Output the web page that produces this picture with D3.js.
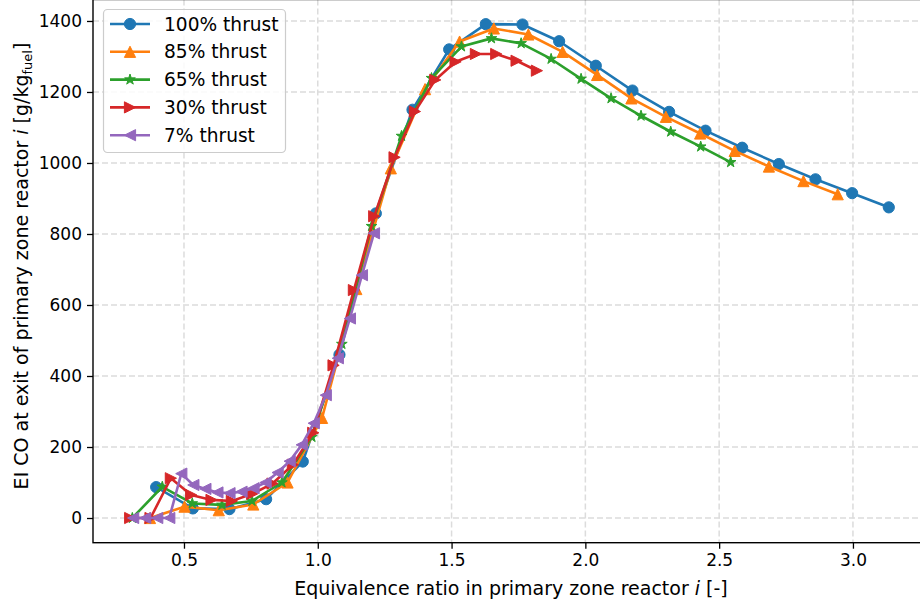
<!DOCTYPE html>
<html>
<head>
<meta charset="utf-8">
<script src="https://cdn.jsdelivr.net/npm/d3@7"></script>
<style>
  html, body { margin: 0; padding: 0; background: #fff; }
  svg { display: block; font-family: "DejaVu Sans", sans-serif; }
</style>
</head>
<body>
<svg id="chart" width="920" height="602"></svg>
<script>
// ---- data ----
const seriesNames = ["100% thrust", "85% thrust", "65% thrust", "30% thrust", "7% thrust"];
const seriesColors = ["#1f77b4", "#ff7f0e", "#2ca02c", "#d62728", "#9467bd"];
const seriesMarkers = ["circle", "triangleUp", "star", "triangleRight", "triangleLeft"];

const phi100 = [0.396,0.533,0.670,0.807,0.944,1.081,1.217,1.354,1.491,1.628,1.765,1.902,2.039,2.176,2.313,2.449,2.586,2.723,2.860,2.997,3.134];
const co100  = [87,27,25,53,159,460,858,1150,1320,1391,1390,1343,1274,1204,1144,1091,1043,997,954,915,875];

const phi85 = [0.373,0.502,0.630,0.759,0.887,1.016,1.144,1.273,1.401,1.530,1.658,1.787,1.915,2.044,2.172,2.301,2.429,2.558,2.686,2.815,2.943];
const co85  = [0,32,22,38,100,282,645,985,1208,1342,1379,1362,1313,1248,1182,1130,1083,1034,990,949,912];

const phi65 = [0.307,0.419,0.531,0.642,0.754,0.866,0.978,1.090,1.201,1.313,1.425,1.537,1.649,1.760,1.872,1.984,2.096,2.208,2.319,2.431,2.543];
const co65  = [0,88,41,37,48,100,228,490,822,1076,1239,1328,1351,1337,1293,1237,1182,1133,1088,1046,1002];

const phi30 = [0.299,0.375,0.451,0.527,0.603,0.679,0.755,0.831,0.907,0.983,1.059,1.135,1.211,1.287,1.363,1.439,1.515,1.591,1.667,1.743,1.819];
const co30  = [0,0,112,65,51,48,68,97,150,240,430,642,850,1016,1145,1234,1285,1307,1307,1288,1260];

const phi7 = [0.310,0.355,0.400,0.445,0.490,0.535,0.580,0.625,0.670,0.715,0.760,0.805,0.850,0.895,0.940,0.985,1.030,1.075,1.120,1.165,1.210];
const co7  = [0,0,0,0,125,93,82,72,70,74,84,100,128,160,206,267,346,450,562,684,802];

const xTicks = [0.5, 1.0, 1.5, 2.0, 2.5, 3.0];
const yTicks = [0, 200, 400, 600, 800, 1000, 1200, 1400];

const xDomain = [0.157, 3.276];
const yDomain = [-69.55, 1460.5];

const allPhi = [phi100, phi85, phi65, phi30, phi7];
const allCo = [co100, co85, co65, co30, co7];

// ---- layout ----
const svg = d3.select("#chart");
const pLeft = 93, pRight = 926.8, pTop = -0.5, pBottom = 542.7;

const x = d3.scaleLinear().domain(xDomain).range([92.2, pRight]);
const y = d3.scaleLinear().domain(yDomain).range([pBottom, pTop]);

// grid
const grid = svg.append("g");
grid.selectAll("line.gx").data(xTicks).enter().append("line")
  .attr("x1", d => x(d)).attr("x2", d => x(d))
  .attr("y1", pTop).attr("y2", pBottom)
  .attr("stroke", "#dcdcdc").attr("stroke-width", 1.5).attr("stroke-dasharray", "6,3");
grid.selectAll("line.gy").data(yTicks).enter().append("line")
  .attr("x1", pLeft).attr("x2", pRight)
  .attr("y1", d => y(d)).attr("y2", d => y(d))
  .attr("stroke", "#dcdcdc").attr("stroke-width", 1.5).attr("stroke-dasharray", "6,3");

// marker paths
const ms = 5.6;
function markerPath(type, s) {
  if (type === "circle") return null;
  if (type === "triangleUp") return `M0,${-s}L${-s},${s}L${s},${s}Z`;
  if (type === "triangleRight") return `M${s},0L${-s},${-s}L${-s},${s}Z`;
  if (type === "triangleLeft") return `M${-s},0L${s},${-s}L${s},${s}Z`;
  if (type === "star") {
    const pts = [];
    const ro = s * 1.0, ri = ro * 0.381966;
    for (let k = 0; k < 10; k++) {
      const r = k % 2 === 0 ? ro : ri;
      const a = -Math.PI / 2 + k * Math.PI / 5;
      pts.push([r * Math.cos(a), r * Math.sin(a)]);
    }
    return "M" + pts.map(p => p[0].toFixed(2) + "," + p[1].toFixed(2)).join("L") + "Z";
  }
}
function drawMarker(g, type, cx, cy, color) {
  if (type === "circle") {
    g.append("circle").attr("cx", cx).attr("cy", cy).attr("r", ms)
      .attr("fill", color).attr("stroke", color).attr("stroke-width", 1);
  } else {
    g.append("path").attr("d", markerPath(type, ms))
      .attr("transform", `translate(${cx},${cy})`)
      .attr("fill", color).attr("stroke", color).attr("stroke-width", 1)
      .attr("stroke-linejoin", "miter");
  }
}

// series
const line = d3.line().x(d => x(d[0])).y(d => y(d[1]));
const plot = svg.append("g");
seriesNames.forEach((name, i) => {
  const pts = allPhi[i].map((p, j) => [p, allCo[i][j]]);
  const g = plot.append("g");
  g.append("path").datum(pts).attr("d", line)
    .attr("fill", "none").attr("stroke", seriesColors[i])
    .attr("stroke-width", 2.6).attr("stroke-linejoin", "round").attr("stroke-linecap", "square");
  pts.forEach(p => drawMarker(g, seriesMarkers[i], x(p[0]), y(p[1]), seriesColors[i]));
});

// frame
svg.append("rect").attr("x", pLeft).attr("y", pTop)
  .attr("width", pRight - pLeft).attr("height", pBottom - pTop)
  .attr("fill", "none").attr("stroke", "#000").attr("stroke-width", 1.4);

// axes (ticks + labels)
const xAxis = d3.axisBottom(x).tickValues(xTicks).tickFormat(d3.format(".1f")).tickSize(6).tickPadding(5);
const yAxis = d3.axisLeft(y).tickValues(yTicks).tickFormat(d3.format("d")).tickSize(6).tickPadding(5);

const gx = svg.append("g").attr("transform", `translate(0,${pBottom})`).call(xAxis);
const gy = svg.append("g").attr("transform", `translate(${pLeft},0)`).call(yAxis);
[gx, gy].forEach(g => {
  g.select(".domain").remove();
  g.selectAll(".tick line").attr("stroke", "#000").attr("stroke-width", 1.3);
  g.selectAll(".tick text").attr("fill", "#000").style("font-size", "17px")
    .style("font-family", "'DejaVu Sans', sans-serif");
});

// axis labels
const xl = svg.append("text").attr("x", 511).attr("y", 595)
  .attr("text-anchor", "middle").style("font-size", "19px").attr("fill", "#000");
xl.append("tspan").text("Equivalence ratio in primary zone reactor ");
xl.append("tspan").attr("font-style", "italic").text("i");
xl.append("tspan").text(" [-]");

const yl = svg.append("text")
  .attr("transform", "translate(28,266) rotate(-90)")
  .attr("text-anchor", "middle").style("font-size", "19px").attr("fill", "#000");
yl.append("tspan").text("EI CO at exit of primary zone reactor ");
yl.append("tspan").attr("font-style", "italic").text("i");
yl.append("tspan").text(" [g/kg");
yl.append("tspan").attr("dy", 4).style("font-size", "13px").text("fuel");
yl.append("tspan").attr("dy", -4).text("]");

// legend
const lg = svg.append("g");
lg.append("rect").attr("x", 103.5).attr("y", 9.5).attr("width", 182).attr("height", 143)
  .attr("rx", 4).attr("fill", "#fff").attr("fill-opacity", 0.85)
  .attr("stroke", "#cccccc").attr("stroke-width", 1.2);
seriesNames.forEach((name, i) => {
  const cy = 24 + i * 27.8;
  lg.append("line").attr("x1", 110).attr("x2", 150).attr("y1", cy).attr("y2", cy)
    .attr("stroke", seriesColors[i]).attr("stroke-width", 2.6);
  drawMarker(lg, seriesMarkers[i], 130, cy, seriesColors[i]);
  lg.append("text").attr("x", 164).attr("y", cy).attr("dy", "0.36em")
    .style("font-size", "18.6px").attr("fill", "#000").text(name);
});
</script>
</body>
</html>
